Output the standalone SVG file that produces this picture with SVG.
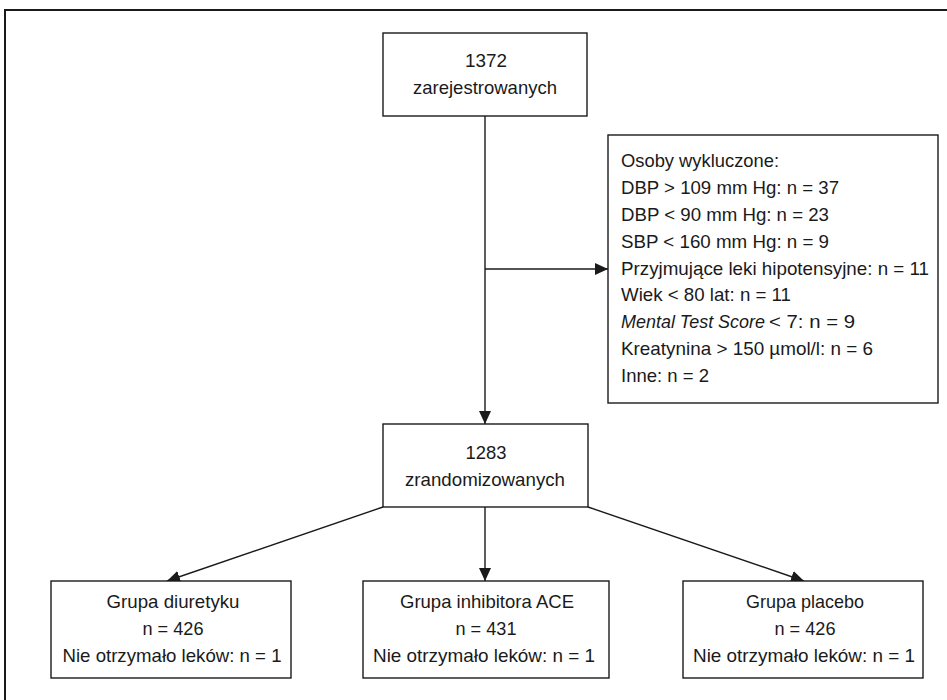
<svg xmlns="http://www.w3.org/2000/svg" width="947" height="700" viewBox="0 0 947 700">
<style>
.box{fill:#fff;stroke:#1a1a1a;stroke-width:1.4}
.t{font-family:"Liberation Sans",Arial,sans-serif;font-size:19px;fill:#1a1a1a}
.c{text-anchor:middle}
.i{font-style:italic}
.ln{fill:none;stroke:#1a1a1a;stroke-width:1.4}
</style>
<defs>
<marker id="ah" markerUnits="userSpaceOnUse" markerWidth="14" markerHeight="12" refX="13" refY="6" orient="auto">
<path d="M0,0 L13,6 L0,12 Z" fill="#1a1a1a"/>
</marker>
</defs>
<rect width="947" height="700" fill="#fff"/>
<path d="M5,700 V10 H947" fill="none" stroke="#1a1a1a" stroke-width="2"/>
<g id="connectors">
<path class="ln" d="M485,116 V424" marker-end="url(#ah)"/>
<path class="ln" d="M485,269 H608" marker-end="url(#ah)"/>
<path class="ln" d="M485,507 V581" marker-end="url(#ah)"/>
<path class="ln" d="M383,507 L167,581" marker-end="url(#ah)"/>
<path class="ln" d="M588,507 L804,581" marker-end="url(#ah)"/>
</g>
<g id="registered">
<rect class="box" x="383" y="33" width="204" height="83"/>
<text class="t c" x="486" y="67" textLength="42" lengthAdjust="spacingAndGlyphs">1372</text>
<text class="t c" x="485" y="94" textLength="144" lengthAdjust="spacingAndGlyphs">zarejestrowanych</text>
</g>
<g id="excluded">
<rect class="box" x="608" y="135" width="330" height="268"/>
<text class="t" x="621" y="167" textLength="158" lengthAdjust="spacingAndGlyphs">Osoby wykluczone:</text>
<text class="t" x="621" y="194" textLength="218" lengthAdjust="spacingAndGlyphs">DBP &gt; 109 mm Hg: n = 37</text>
<text class="t" x="621" y="221" textLength="208" lengthAdjust="spacingAndGlyphs">DBP &lt; 90 mm Hg: n = 23</text>
<text class="t" x="621" y="248" textLength="208" lengthAdjust="spacingAndGlyphs">SBP &lt; 160 mm Hg: n = 9</text>
<text class="t" x="621" y="275" textLength="308" lengthAdjust="spacingAndGlyphs">Przyjmujące leki hipotensyjne: n = 11</text>
<text class="t" x="621" y="301" textLength="170" lengthAdjust="spacingAndGlyphs">Wiek &lt; 80 lat: n = 11</text>
<text class="t i" x="621" y="328" textLength="144" lengthAdjust="spacingAndGlyphs">Mental Test Score</text>
<text class="t" x="769" y="328" textLength="86" lengthAdjust="spacingAndGlyphs">&lt; 7: n = 9</text>
<text class="t" x="621" y="355" textLength="252" lengthAdjust="spacingAndGlyphs">Kreatynina &gt; 150 µmol/l: n = 6</text>
<text class="t" x="621" y="382" textLength="88" lengthAdjust="spacingAndGlyphs">Inne: n = 2</text>
</g>
<g id="randomized">
<rect class="box" x="383" y="424" width="205" height="83"/>
<text class="t c" x="486" y="459" textLength="41" lengthAdjust="spacingAndGlyphs">1283</text>
<text class="t c" x="485" y="486" textLength="160" lengthAdjust="spacingAndGlyphs">zrandomizowanych</text>
</g>
<g id="diuretic">
<rect class="box" x="51" y="581" width="240" height="97"/>
<text class="t c" x="173" y="608" textLength="133" lengthAdjust="spacingAndGlyphs">Grupa diuretyku</text>
<text class="t c" x="173" y="635" textLength="61" lengthAdjust="spacingAndGlyphs">n = 426</text>
<text class="t c" x="172" y="662" textLength="219" lengthAdjust="spacingAndGlyphs">Nie otrzymało leków: n = 1</text>
</g>
<g id="ace">
<rect class="box" x="363" y="581" width="246" height="97"/>
<text class="t c" x="487" y="608" textLength="174" lengthAdjust="spacingAndGlyphs">Grupa inhibitora ACE</text>
<text class="t c" x="486" y="635" textLength="61" lengthAdjust="spacingAndGlyphs">n = 431</text>
<text class="t c" x="484" y="662" textLength="222" lengthAdjust="spacingAndGlyphs">Nie otrzymało leków: n = 1</text>
</g>
<g id="placebo">
<rect class="box" x="683" y="581" width="240" height="97"/>
<text class="t c" x="805" y="608" textLength="118" lengthAdjust="spacingAndGlyphs">Grupa placebo</text>
<text class="t c" x="805" y="635" textLength="61" lengthAdjust="spacingAndGlyphs">n = 426</text>
<text class="t c" x="804" y="662" textLength="222" lengthAdjust="spacingAndGlyphs">Nie otrzymało leków: n = 1</text>
</g>
</svg>
